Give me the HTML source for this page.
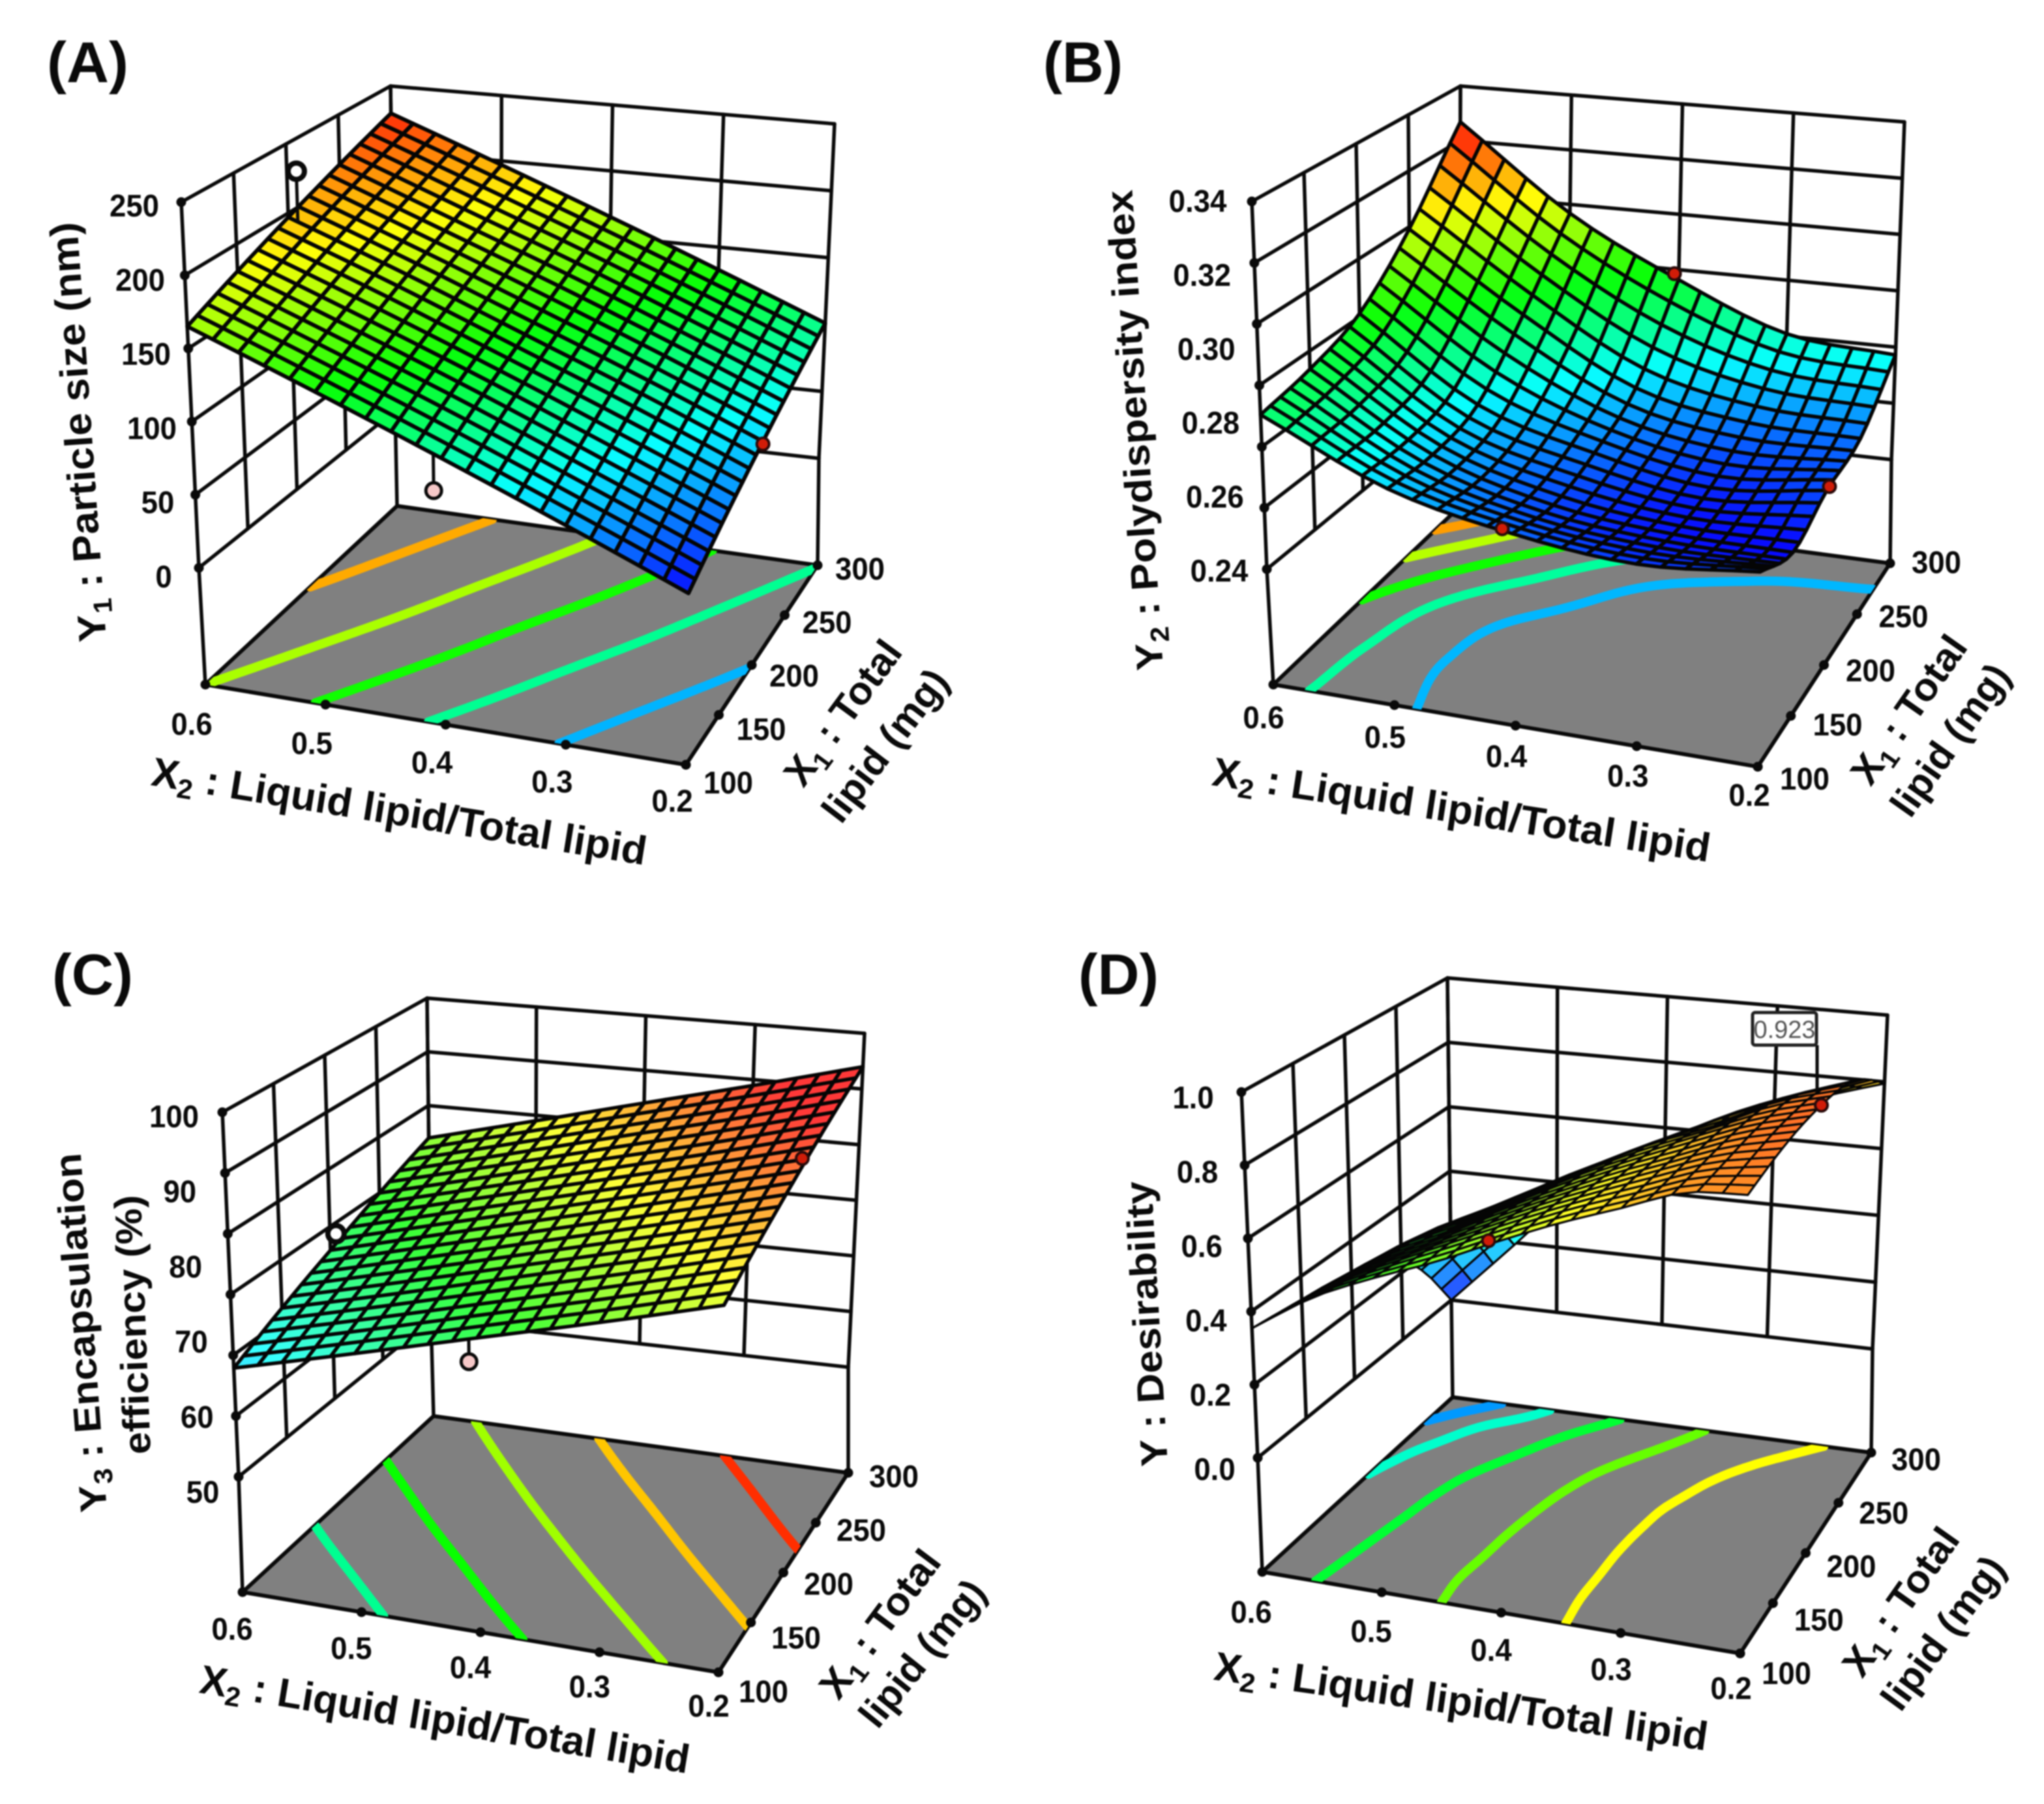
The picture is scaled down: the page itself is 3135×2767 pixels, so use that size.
<!DOCTYPE html>
<html lang="en">
<head>
<meta charset="utf-8">
<title>Response surface plots</title>
<style>
html,body{margin:0;padding:0;background:#fff;}
svg{display:block;filter:blur(1.1px);}
text{font-family:"Liberation Sans",sans-serif;font-weight:700;fill:#0a0a0a;}
</style>
</head>
<body>
<svg id="figure" width="3135" height="2767" viewBox="0 0 3135 2767" xmlns="http://www.w3.org/2000/svg">
<rect width="3135" height="2767" fill="#fff"/>

<g id="panel-a"></g>
<g id="panel-b"></g>
<g id="panel-c"></g>
<g id="panel-d"></g>

<!-- Panel A text -->
<text x="72" y="126" font-size="88" textLength="125" lengthAdjust="spacingAndGlyphs">(A)</text>
<text transform="translate(163,983) rotate(-94)" font-size="60" textLength="645" lengthAdjust="spacingAndGlyphs">Y<tspan font-size="40" dy="12">1</tspan><tspan dy="-12"> : Particle size (nm)</tspan></text>
<text transform="translate(230,1204) rotate(9.2)" font-size="62" textLength="768" lengthAdjust="spacingAndGlyphs">X<tspan font-size="42" dy="12">2</tspan><tspan dy="-12"> : Liquid lipid/Total lipid</tspan></text>
<text transform="translate(1232,1210) rotate(-53.6)" font-size="60" textLength="260" lengthAdjust="spacingAndGlyphs">X<tspan font-size="40" dy="12">1</tspan><tspan dy="-12"> : Total</tspan></text>
<text transform="translate(1290,1266) rotate(-52.7)" font-size="60" textLength="277" lengthAdjust="spacingAndGlyphs">lipid (mg)</text>

<!-- Panel B text -->
<text x="1600" y="126" font-size="88" textLength="122" lengthAdjust="spacingAndGlyphs">(B)</text>
<text transform="translate(1784,1027) rotate(-93.7)" font-size="58" textLength="738" lengthAdjust="spacingAndGlyphs">Y<tspan font-size="40" dy="12">2</tspan><tspan dy="-12"> : Polydispersity index</tspan></text>
<text transform="translate(1857,1204) rotate(8.8)" font-size="62" textLength="772" lengthAdjust="spacingAndGlyphs">X<tspan font-size="42" dy="12">2</tspan><tspan dy="-12"> : Liquid lipid/Total lipid</tspan></text>
<text transform="translate(2869,1208) rotate(-55)" font-size="60" textLength="263" lengthAdjust="spacingAndGlyphs">X<tspan font-size="40" dy="12">1</tspan><tspan dy="-12"> : Total</tspan></text>
<text transform="translate(2930,1257) rotate(-54.8)" font-size="60" textLength="270" lengthAdjust="spacingAndGlyphs">lipid (mg)</text>

<!-- Panel C text -->
<text x="80" y="1525" font-size="88" textLength="124" lengthAdjust="spacingAndGlyphs">(C)</text>
<text transform="translate(164,2318) rotate(-94.2)" font-size="58" textLength="552" lengthAdjust="spacingAndGlyphs">Y<tspan font-size="40" dy="12">3</tspan><tspan dy="-12"> : Encapsulation</tspan></text>
<text transform="translate(231,2230) rotate(-92.2)" font-size="58" textLength="398" lengthAdjust="spacingAndGlyphs">efficiency (%)</text>
<text transform="translate(304,2596) rotate(9.4)" font-size="62" textLength="760" lengthAdjust="spacingAndGlyphs">X<tspan font-size="42" dy="12">2</tspan><tspan dy="-12"> : Liquid lipid/Total lipid</tspan></text>
<text transform="translate(1286,2610) rotate(-53.2)" font-size="60" textLength="267" lengthAdjust="spacingAndGlyphs">X<tspan font-size="40" dy="12">1</tspan><tspan dy="-12"> : Total</tspan></text>
<text transform="translate(1346,2654) rotate(-51.2)" font-size="60" textLength="270" lengthAdjust="spacingAndGlyphs">lipid (mg)</text>

<!-- Panel D text -->
<text x="1654" y="1525" font-size="88" textLength="123" lengthAdjust="spacingAndGlyphs">(D)</text>
<text transform="translate(1791,2248) rotate(-93.3)" font-size="58" textLength="438" lengthAdjust="spacingAndGlyphs">Y : Desirability</text>
<text transform="translate(1860,2576) rotate(8.2)" font-size="62" textLength="764" lengthAdjust="spacingAndGlyphs">X<tspan font-size="42" dy="12">2</tspan><tspan dy="-12"> : Liquid lipid/Total lipid</tspan></text>
<text transform="translate(2856,2576) rotate(-54.7)" font-size="60" textLength="263" lengthAdjust="spacingAndGlyphs">X<tspan font-size="40" dy="12">1</tspan><tspan dy="-12"> : Total</tspan></text>
<text transform="translate(2915,2628) rotate(-53.7)" font-size="60" textLength="276" lengthAdjust="spacingAndGlyphs">lipid (mg)</text>
<line x1="2787" y1="1603" x2="2787" y2="1672" stroke="#0a0a0a" stroke-width="5"/>
<rect x="2688" y="1553" width="98" height="50" rx="4" fill="#fff" stroke="#222" stroke-width="5"/>
<text x="2737" y="1592" font-size="38" text-anchor="middle" style="font-weight:400;fill:#555">0.923</text>
</svg>

<script>
// Shared axes
const x2Ticks = [0.6, 0.5, 0.4, 0.3, 0.2];
const x1Ticks = [100, 150, 200, 250, 300];
const x2TickLabels = ['0.6', '0.5', '0.4', '0.3', '0.2'];
const x1TickLabels = ['100', '150', '200', '250', '300'];

// Panel A: particle size (rows follow x2Ticks, columns follow x1Ticks)
const aSurface = [
  [165, 181, 197, 213, 229],
  [130, 147, 164, 180, 197],
  [95, 113, 130, 148, 165],
  [60, 78, 97, 115, 133],
  [25, 44, 63, 82, 101]
];
const aZGrid = [0, 50, 100, 150, 200, 250];
const aZLabels = ['0', '50', '100', '150', '200', '250'];
const aContourLevels = [62, 100, 133, 165, 200];
const aColorRange = [25, 235];
const aPointX2 = [0.592, 0.48, 0.2];
const aPointX1 = [200, 200, 210];
const aPointZ = [231, 11, 65];
const aPointKind = ['above', 'below', 'surface'];

// Panel B: polydispersity index
const bSurface = [
  [0.282, 0.285, 0.291, 0.306, 0.329],
  [0.266, 0.265, 0.2685, 0.284, 0.304],
  [0.258, 0.255, 0.2585, 0.266, 0.287],
  [0.254, 0.251, 0.2525, 0.2595, 0.274],
  [0.256, 0.250, 0.2555, 0.2585, 0.271]
];
const bZGrid = [0.24, 0.2567, 0.2733, 0.29, 0.3067, 0.3233, 0.34];
const bZLabels = ['0.24', '0.26', '0.28', '0.30', '0.32', '0.34'];
const bContourLevels = [0.264, 0.277, 0.29, 0.303, 0.316];
const bColorRange = [0.25, 0.328];
const bPointX2 = [0.408, 0.2, 0.404];
const bPointX1 = [100, 204, 300];
const bPointZ = [0.259, 0.2557, 0.2887];
const bPointKind = ['surface', 'surface', 'surface'];

// Panel C: encapsulation efficiency
const cSurface = [
  [64.9, 68.3, 71.6, 75.0, 78.3],
  [69.2, 72.5, 75.9, 79.2, 82.5],
  [73.5, 76.8, 80.1, 83.4, 86.7],
  [77.7, 81.0, 84.3, 87.5, 90.8],
  [82.0, 85.3, 88.5, 91.8, 95.0]
];
const cZGrid = [50, 58.33, 66.67, 75, 83.33, 91.67, 100];
const cZLabels = ['50', '60', '70', '80', '90', '100'];
const cContourLevels = [70, 75, 80, 85, 90];
const cColorRange = [58, 91.5];
const cPointX2 = [0.6, 0.48, 0.205];
const cPointX1 = [206, 200, 222];
const cPointZ = [73.4, 57.9, 89.6];
const cPointKind = ['above', 'below', 'surface'];

// Panel D: desirability (finer reading because of the dip near the rear corner)
const dSurface = [
  [0.354, 0.345, 0.335, 0.325, 0.31, 0.285, 0.24, 0.14, 0.0],
  [0.46, 0.45, 0.44, 0.43, 0.42, 0.40, 0.36, 0.30, 0.16],
  [0.535, 0.53, 0.52, 0.51, 0.50, 0.485, 0.45, 0.40, 0.32],
  [0.60, 0.605, 0.60, 0.595, 0.585, 0.57, 0.545, 0.50, 0.43],
  [0.675, 0.68, 0.68, 0.675, 0.67, 0.655, 0.625, 0.58, 0.525],
  [0.745, 0.75, 0.75, 0.75, 0.745, 0.735, 0.705, 0.66, 0.615],
  [0.805, 0.81, 0.815, 0.815, 0.815, 0.80, 0.785, 0.74, 0.685],
  [0.865, 0.87, 0.875, 0.88, 0.88, 0.875, 0.85, 0.80, 0.745],
  [0.878, 0.895, 0.91, 0.92, 0.923, 0.92, 0.905, 0.86, 0.795]
];
const dZGrid = [0, 0.2, 0.4, 0.6, 0.8, 1.0];
const dZLabels = ['0.0', '0.2', '0.4', '0.6', '0.8', '1.0'];
const dContourLevels = [0.15, 0.30, 0.45, 0.60, 0.75];
const dColorRange = [0, 1];
const dPointX2 = [0.48, 0.2];
const dPointX1 = [200, 206];
const dPointZ = [0.45, 0.923];
const dPointKind = ['surface', 'surface'];

const SVGNS = 'http://www.w3.org/2000/svg';
const MESH = 20;
const CONTOUR_RES = 60;

function make(tag, parent) {
  const el = document.createElementNS(SVGNS, tag);
  parent.appendChild(el);
  return el;
}
function lerp(a, b, t) { return a + (b - a) * t; }
// Corners are ordered: left (x2 max, x1 min), front, right, back.
function bilinear(c, u, v) {
  const ax = lerp(c[0][0], c[1][0], u), ay = lerp(c[0][1], c[1][1], u);
  const bx = lerp(c[3][0], c[2][0], u), by = lerp(c[3][1], c[2][1], u);
  return [lerp(ax, bx, v), lerp(ay, by, v)];
}
function uOf(x2) { return (x2Ticks[0] - x2) / (x2Ticks[0] - x2Ticks[x2Ticks.length - 1]); }
function vOf(x1) { return (x1 - x1Ticks[0]) / (x1Ticks[x1Ticks.length - 1] - x1Ticks[0]); }
function catmull(p0, p1, p2, p3, t) {
  return 0.5 * (2 * p1 + (p2 - p0) * t + (2 * p0 - 5 * p1 + 4 * p2 - p3) * t * t + (3 * p1 - p0 - 3 * p2 + p3) * t * t * t);
}
function sampleSurface(grid, u, v) {
  const rows = grid.length, cols = grid[0].length;
  const r = Math.min(u * (rows - 1), rows - 1.0001), c = Math.min(v * (cols - 1), cols - 1.0001);
  const i = Math.floor(r), j = Math.floor(c);
  const at = (a, b) => {
    if (a < 0) return 2 * at(0, b) - at(1, b);
    if (a >= rows) return 2 * at(rows - 1, b) - at(rows - 2, b);
    if (b < 0) return 2 * at(a, 0) - at(a, 1);
    if (b >= cols) return 2 * at(a, cols - 1) - at(a, cols - 2);
    return grid[a][b];
  };
  const row = k => catmull(at(k, j - 1), at(k, j), at(k, j + 1), at(k, j + 2), c - j);
  return catmull(row(i - 1), row(i), row(i + 1), row(i + 2), r - i);
}
function colormap(t, whiten) {
  t = Math.max(0, Math.min(1, t));
  const stops = [[0, 0, 255], [0, 255, 255], [0, 255, 0], [255, 255, 0], [255, 0, 0]];
  const s = t * 4, k = Math.min(3, Math.floor(s)), f = s - k;
  const m = [0, 1, 2].map(n => Math.round(lerp(lerp(stops[k][n], stops[k + 1][n], f), 255, whiten)));
  return 'rgb(' + m.join(',') + ')';
}
function pts(list) { return list.map(p => p[0].toFixed(1) + ',' + p[1].toFixed(1)).join(' '); }

function drawPanel(cfg) {
  const root = document.getElementById(cfg.id);
  const zMin = cfg.zGrid[0], zMax = cfg.zGrid[cfg.zGrid.length - 1];
  const wOf = z => (z - zMin) / (zMax - zMin);
  const proj = (u, v, z) => {
    const lo = bilinear(cfg.wallBase, u, v), hi = bilinear(cfg.wallTop, u, v), w = wOf(z);
    return [lerp(lo[0], hi[0], w), lerp(lo[1], hi[1], w)];
  };
  const floorAt = (u, v) => bilinear(cfg.floor, u, v);
  const tOf = val => (val - cfg.colorRange[0]) / (cfg.colorRange[1] - cfg.colorRange[0]);
  const surf = (u, v) => Math.max(zMin, sampleSurface(cfg.surface, u, v));

  function wallLine(a, b) {
    const el = make('line', root);
    
    
    el.setAttribute('x1', a[0]); el.setAttribute('y1', a[1]);
    el.setAttribute('x2', b[0]); el.setAttribute('y2', b[1]);
    el.setAttribute('stroke', '#0a0a0a');
    el.setAttribute('stroke-width', '5.5');
    el.setAttribute('stroke-linecap', 'round');
  }
  function tickDot(p) {
    const el = make('circle', root);
    
    
    el.setAttribute('cx', p[0]); el.setAttribute('cy', p[1]);
    el.setAttribute('r', '7.5');
    el.setAttribute('fill', '#0a0a0a');
  }
  function tickLabel(text, a, b, t) {
    const el = make('text', root);
    
    
    el.setAttribute('transform', 'translate(' + lerp(a[0], b[0], t) + ',' + (lerp(a[1], b[1], t) + 16) + ') scale(0.95,1)');
    el.setAttribute('font-size', '48');
    el.setAttribute('text-anchor', 'middle');
    el.textContent = text;
  }

  // Walls
  x1Ticks.forEach(x1 => wallLine(proj(0, vOf(x1), zMin), proj(0, vOf(x1), zMax)));
  x2Ticks.forEach(x2 => wallLine(proj(uOf(x2), 1, zMin), proj(uOf(x2), 1, zMax)));
  cfg.zGrid.forEach(z => {
    wallLine(proj(0, 0, z), proj(0, 1, z));
    wallLine(proj(0, 1, z), proj(1, 1, z));
  });
  wallLine(floorAt(0, 0), proj(0, 0, zMin));
  wallLine(floorAt(0, 1), proj(0, 1, zMin));
  wallLine(floorAt(1, 1), proj(1, 1, zMin));

  // Floor
  const floorPoly = make('polygon', root);
  
  
  floorPoly.setAttribute('points', pts(cfg.floor));
  floorPoly.setAttribute('fill', '#808080');
  floorPoly.setAttribute('stroke', '#0a0a0a');
  floorPoly.setAttribute('stroke-width', '6');
  floorPoly.setAttribute('stroke-linejoin', 'round');

  // Contours, clipped to the floor
  const clip = make('clipPath', root);
  clip.setAttribute('id', cfg.id + '-floor-clip');
  const clipPoly = make('polygon', clip);
  clipPoly.setAttribute('points', pts(cfg.floor));
  cfg.levels.forEach(level => {
    let d = '';
    const n = CONTOUR_RES;
    for (let i = 0; i < n; i++) {
      for (let j = 0; j < n; j++) {
        const u0 = i / n, u1 = (i + 1) / n, v0 = j / n, v1 = (j + 1) / n;
        const corners = [[u0, v0], [u1, v0], [u1, v1], [u0, v1]];
        const vals = corners.map(c => surf(c[0], c[1]));
        const cross = [];
        for (let k = 0; k < 4; k++) {
          const a = vals[k], b = vals[(k + 1) % 4];
          if ((a < level) !== (b < level)) {
            const t = (level - a) / (b - a);
            const ca = corners[k], cb = corners[(k + 1) % 4];
            cross.push(floorAt(lerp(ca[0], cb[0], t), lerp(ca[1], cb[1], t)));
          }
        }
        for (let k = 0; k + 1 < cross.length; k += 2) {
          d += 'M' + cross[k][0].toFixed(1) + ' ' + cross[k][1].toFixed(1) + 'L' + cross[k + 1][0].toFixed(1) + ' ' + cross[k + 1][1].toFixed(1);
        }
      }
    }
    const path = make('path', root);
    
    
    path.setAttribute('d', d);
    path.setAttribute('fill', 'none');
    path.setAttribute('stroke', colormap(tOf(level), 0));
    path.setAttribute('stroke-width', '14');
    path.setAttribute('stroke-linecap', 'round');
    path.setAttribute('clip-path', 'url(#' + cfg.id + '-floor-clip)');
  });

  // Tick dots and labels
  x2Ticks.forEach(x2 => tickDot(floorAt(uOf(x2), 0)));
  x1Ticks.forEach(x1 => tickDot(floorAt(1, vOf(x1))));
  cfg.zGrid.forEach(z => tickDot(proj(0, 0, z)));
  x2TickLabels.forEach((s, i) => tickLabel(s, cfg.x2LabelEnds[0], cfg.x2LabelEnds[1], i / (x2TickLabels.length - 1)));
  x1TickLabels.forEach((s, i) => tickLabel(s, cfg.x1LabelEnds[0], cfg.x1LabelEnds[1], i / (x1TickLabels.length - 1)));
  cfg.zLabels.forEach((s, i) => tickLabel(s, cfg.zLabelEnds[0], cfg.zLabelEnds[1], i / (cfg.zLabels.length - 1)));

  function stem(i) {
    const u = uOf(cfg.pointX2[i]), v = vOf(cfg.pointX1[i]);
    const a = proj(u, v, cfg.pointZ[i]), b = proj(u, v, surf(u, v));
    const el = make('line', root);
    
    
    el.setAttribute('x1', a[0]); el.setAttribute('y1', a[1]);
    el.setAttribute('x2', b[0]); el.setAttribute('y2', b[1]);
    el.setAttribute('stroke', '#0a0a0a');
    el.setAttribute('stroke-width', '5');
  }
  function point(i) {
    const kind = cfg.pointKind[i];
    const p = proj(uOf(cfg.pointX2[i]), vOf(cfg.pointX1[i]), cfg.pointZ[i]);
    const el = make('circle', root);
    
    
    el.setAttribute('cx', p[0]); el.setAttribute('cy', p[1]);
    el.setAttribute('r', kind === 'above' ? '12.5' : (kind === 'below' ? '12' : '9.5'));
    el.setAttribute('fill', kind === 'above' ? '#fff' : (kind === 'below' ? '#f6c8c8' : '#d01c08'));
    el.setAttribute('stroke', kind === 'surface' ? '#2a0a0a' : '#0a0a0a');
    el.setAttribute('stroke-width', kind === 'above' ? '8' : (kind === 'below' ? '5' : '4'));
  }

  // Points that sit under the mesh come first
  cfg.pointKind.forEach((k, i) => {
    if (k === 'below') { stem(i); point(i); }
  });

  // Surface mesh, painted from the rear corner towards the viewer
  const mesh = make('g', root);
  
  
  const node = [];
  const values = [];
  for (let i = 0; i <= MESH; i++) {
    node.push([]);
    values.push([]);
    for (let j = 0; j <= MESH; j++) {
      const val = surf(i / MESH, j / MESH);
      values[i].push(val);
      node[i].push(proj(i / MESH, j / MESH, val));
    }
  }
  for (let i = 0; i < MESH; i++) {
    for (let j = MESH - 1; j >= 0; j--) {
      const cell = make('polygon', mesh);
      
      
      cell.setAttribute('points', pts([node[i][j], node[i + 1][j], node[i + 1][j + 1], node[i][j + 1]]));
      cell.setAttribute('fill', colormap(tOf((values[i][j] + values[i + 1][j] + values[i + 1][j + 1] + values[i][j + 1]) / 4), cfg.whiten));
      cell.setAttribute('stroke', '#050505');
      cell.setAttribute('stroke-width', cfg.meshStroke);
      cell.setAttribute('stroke-linejoin', 'round');
    }
  }

  cfg.pointKind.forEach((k, i) => {
    if (k === 'above') { stem(i); point(i); }
    if (k === 'surface') { point(i); }
  });
}

drawPanel({
  id: 'panel-a', surface: aSurface, zGrid: aZGrid, zLabels: aZLabels, levels: aContourLevels, colorRange: aColorRange,
  pointX2: aPointX2, pointX1: aPointX1, pointZ: aPointZ, pointKind: aPointKind, meshStroke: 6, whiten: 0.03,
  floor: [[315, 1050], [1052, 1173], [1254, 867], [609, 776]],
  wallBase: [[305, 871], [1055, 968], [1256, 703], [606, 630]],
  wallTop: [[278, 310], [1065, 388], [1280, 190], [599, 132]],
  zLabelEnds: [[251, 885], [206, 316]],
  x2LabelEnds: [[294, 1111], [1031, 1229]],
  x1LabelEnds: [[1117, 1201], [1319, 873]]
});
drawPanel({
  id: 'panel-b', surface: bSurface, zGrid: bZGrid, zLabels: bZLabels, levels: bContourLevels, colorRange: bColorRange,
  pointX2: bPointX2, pointX1: bPointX1, pointZ: bPointZ, pointKind: bPointKind, meshStroke: 5.5, whiten: 0.03,
  floor: [[1953, 1050], [2696, 1176], [2899, 864], [2240, 776]],
  wallBase: [[1943, 873], [2698, 970], [2901, 705], [2238, 631]],
  wallTop: [[1920, 309], [2708, 390], [2921, 187], [2240, 132]],
  zLabelEnds: [[1870, 876], [1837, 309]],
  x2LabelEnds: [[1938, 1101], [2683, 1220]],
  x1LabelEnds: [[2768, 1195], [2970, 863]]
});
drawPanel({
  id: 'panel-c', surface: cSurface, zGrid: cZGrid, zLabels: cZLabels, levels: cContourLevels, colorRange: cColorRange,
  pointX2: cPointX2, pointX1: cPointX1, pointZ: cPointZ, pointKind: cPointKind, meshStroke: 5.5, whiten: 0.22,
  floor: [[372, 2442], [1102, 2565], [1301, 2259], [665, 2172]],
  wallBase: [[366, 2265], [1104, 2379], [1301, 2097], [661, 2025]],
  wallTop: [[341, 1706], [1114, 1790], [1326, 1585], [655, 1531]],
  zLabelEnds: [[311, 2289], [267, 1713]],
  x2LabelEnds: [[356, 2499], [1087, 2617]],
  x1LabelEnds: [[1171, 2595], [1371, 2265]]
});
drawPanel({
  id: 'panel-d', surface: dSurface, zGrid: dZGrid, zLabels: dZLabels, levels: dContourLevels, colorRange: dColorRange,
  pointX2: dPointX2, pointX1: dPointX1, pointZ: dPointZ, pointKind: dPointKind, meshStroke: 3.2, whiten: 0.15,
  floor: [[1936, 2411], [2669, 2536], [2870, 2228], [2228, 2143]],
  wallBase: [[1929, 2236], [2671, 2350], [2872, 2069], [2226, 1994]],
  wallTop: [[1904, 1675], [2682, 1761], [2895, 1557], [2220, 1500]],
  zLabelEnds: [[1863, 2254], [1830, 1684]],
  x2LabelEnds: [[1919, 2473], [2655, 2590]],
  x1LabelEnds: [[2740, 2567], [2939, 2239]]
});
</script>
</body>
</html>
